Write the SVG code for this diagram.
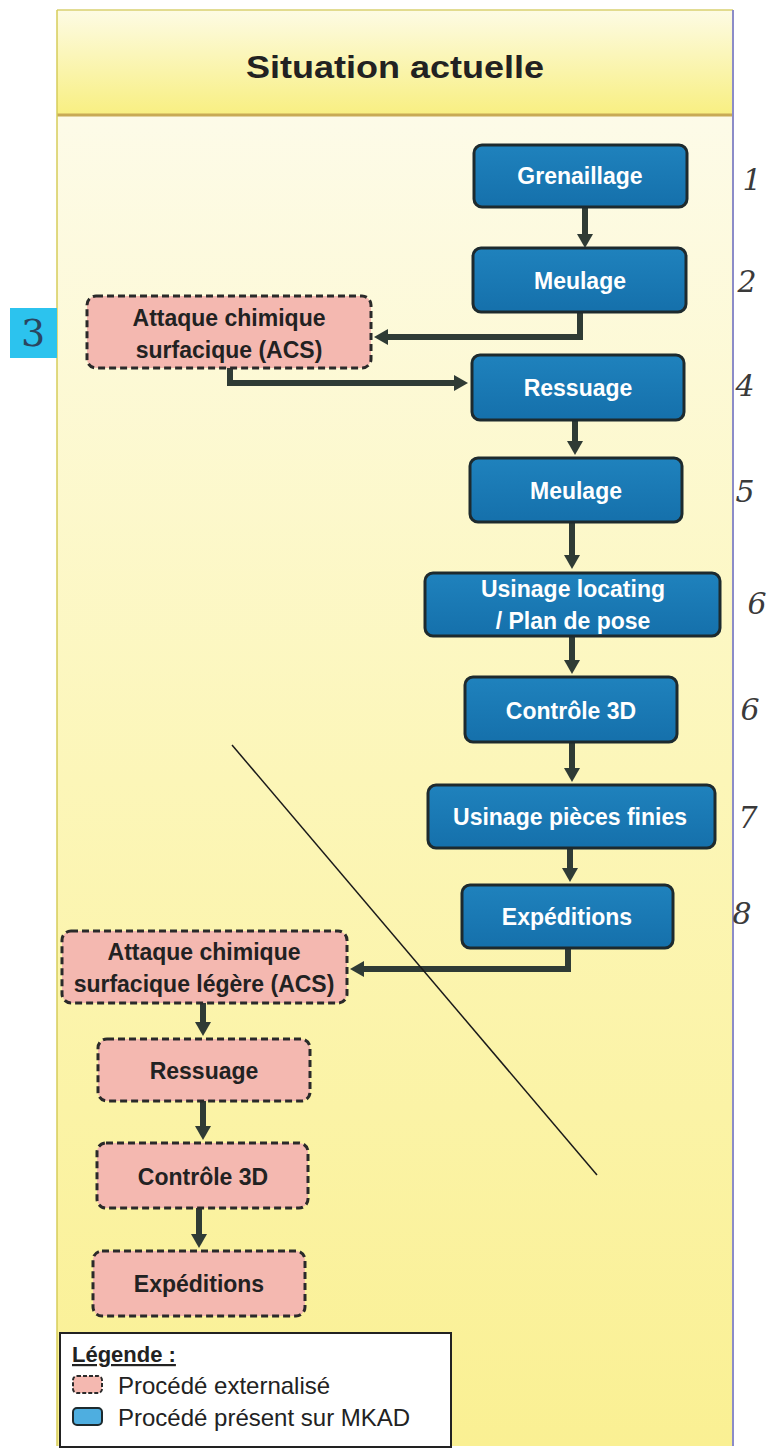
<svg xmlns="http://www.w3.org/2000/svg" width="773" height="1453" viewBox="0 0 773 1453">
<defs>
<linearGradient id="gHead" x1="0" y1="0" x2="0" y2="1">
<stop offset="0" stop-color="#fdfbe4"/><stop offset="1" stop-color="#f8ef80"/>
</linearGradient>
<linearGradient id="gBody" x1="0" y1="0" x2="0" y2="1">
<stop offset="0" stop-color="#fdfbe8"/><stop offset="0.5" stop-color="#fcf6b8"/><stop offset="1" stop-color="#faf093"/>
</linearGradient>
<linearGradient id="gBlue" x1="0" y1="0" x2="0" y2="1">
<stop offset="0" stop-color="#1f82bd"/><stop offset="1" stop-color="#1570ab"/>
</linearGradient>
<marker id="ah" markerUnits="userSpaceOnUse" markerWidth="18" markerHeight="18" refX="4" refY="9" orient="auto">
<path d="M0,1 L14,9 L0,17 z" fill="#2f3b35"/>
</marker>
</defs>
<style>
.blue{fill:url(#gBlue);stroke:#1d2a2e;stroke-width:3}
.pink{fill:#f4b8b0;stroke:#2a2a2a;stroke-width:3;stroke-dasharray:7 4}
.tw{font-family:"Liberation Sans",Arial,sans-serif;font-weight:bold;font-size:23px;fill:#ffffff;text-anchor:middle}
.tb{font-family:"Liberation Sans",Arial,sans-serif;font-weight:bold;font-size:23px;fill:#222222;text-anchor:middle}
.hw{font-family:"DejaVu Serif",serif;font-style:italic;font-size:30px;fill:#3a3a3a;text-anchor:middle}
.conn path{fill:none;stroke:#2f3b35;stroke-width:6;marker-end:url(#ah)}
.leg{font-family:"Liberation Sans",Arial,sans-serif;font-size:24px;fill:#222222}
</style>
<rect x="0" y="0" width="773" height="1453" fill="#ffffff"/>
<g id="panel">
<rect x="57" y="116" width="676" height="1330" fill="url(#gBody)"/>
<rect x="57" y="10" width="676" height="106" fill="url(#gHead)"/>
<line x1="57" y1="115" x2="733" y2="115" stroke="#c8aa55" stroke-width="3"/>
<line x1="57" y1="10" x2="733" y2="10" stroke="#d8d070" stroke-width="1.5"/>
<line x1="57" y1="10" x2="57" y2="1446" stroke="#d6cc5a" stroke-width="1.5"/>
<line x1="733" y1="10" x2="733" y2="1446" stroke="#8c8cc8" stroke-width="2"/>
<text x="395" y="78" font-family="Liberation Sans,Arial,sans-serif" font-weight="bold" font-size="31" fill="#222222" text-anchor="middle" textLength="298" lengthAdjust="spacingAndGlyphs">Situation actuelle</text>
</g>
<g class="conn" id="connectors">
<path d="M585,207 V238"/>
<path d="M580,312 V337 H384"/>
<path d="M230,368 V383 H458"/>
<path d="M575,420 V445"/>
<path d="M572,522 V559"/>
<path d="M572,636 V664"/>
<path d="M572,742 V772"/>
<path d="M570,848 V872"/>
<path d="M568,948 V969 H360"/>
<path d="M203,1003 V1026"/>
<path d="M203,1101 V1130"/>
<path d="M199,1208 V1238"/>
</g>
<line x1="232" y1="745" x2="597" y2="1175" stroke="#1a1a1a" stroke-width="1.5"/>
<g id="n1"><rect class="blue" x="474" y="145" width="213" height="62" rx="8"/><text class="tw" x="580" y="184">Grenaillage</text></g>
<g id="n2"><rect class="blue" x="473" y="248" width="213" height="64" rx="8"/><text class="tw" x="580" y="289">Meulage</text></g>
<g id="n3"><rect class="pink" x="87" y="296" width="284" height="72" rx="9"/><text class="tb" x="229" y="326">Attaque chimique</text><text class="tb" x="229" y="358">surfacique (ACS)</text></g>
<g id="n4"><rect class="blue" x="472" y="355" width="212" height="65" rx="8"/><text class="tw" x="578" y="396">Ressuage</text></g>
<g id="n5"><rect class="blue" x="470" y="458" width="212" height="64" rx="8"/><text class="tw" x="576" y="499">Meulage</text></g>
<g id="n6"><rect class="blue" x="425" y="573" width="295" height="63" rx="8"/><text class="tw" x="573" y="597">Usinage locating</text><text class="tw" x="573" y="629">/ Plan de pose</text></g>
<g id="n7"><rect class="blue" x="465" y="677" width="212" height="65" rx="8"/><text class="tw" x="571" y="719">Contrôle 3D</text></g>
<g id="n8"><rect class="blue" x="428" y="785" width="287" height="63" rx="8"/><text class="tw" x="570" y="825">Usinage pièces finies</text></g>
<g id="n9"><rect class="blue" x="462" y="885" width="211" height="63" rx="8"/><text class="tw" x="567" y="925">Expéditions</text></g>
<g id="n10"><rect class="pink" x="62" y="931" width="285" height="72" rx="9"/><text class="tb" x="204" y="960">Attaque chimique</text><text class="tb" x="204" y="992">surfacique légère (ACS)</text></g>
<g id="n11"><rect class="pink" x="98" y="1039" width="212" height="62" rx="9"/><text class="tb" x="204" y="1079">Ressuage</text></g>
<g id="n12"><rect class="pink" x="97" y="1143" width="211" height="65" rx="9"/><text class="tb" x="203" y="1185">Contrôle 3D</text></g>
<g id="n13"><rect class="pink" x="93" y="1251" width="212" height="65" rx="9"/><text class="tb" x="199" y="1292">Expéditions</text></g>
<g id="legend">
<rect x="60" y="1333" width="391" height="114" fill="#ffffff" stroke="#222222" stroke-width="2"/>
<text x="72" y="1362" font-family="Liberation Sans,Arial,sans-serif" font-weight="bold" font-size="22" fill="#222222" text-decoration="underline">Légende :</text>
<rect x="73" y="1376" width="29" height="17" rx="4" fill="#f4b8b0" stroke="#2a2a2a" stroke-width="2" stroke-dasharray="4 2"/>
<text class="leg" x="118" y="1394">Procédé externalisé</text>
<rect x="73" y="1408" width="29" height="17" rx="4" fill="#4eaee0" stroke="#1d2a2e" stroke-width="2"/>
<text class="leg" x="118" y="1426">Procédé présent sur MKAD</text>
</g>
<g id="annotations">
<rect x="10" y="308" width="47" height="50" fill="#2cc3ee"/>
<text x="33" y="346" font-family="DejaVu Serif,serif" font-size="38" fill="#2a4660" text-anchor="middle">3</text>
<text class="hw" x="752" y="190">1</text>
<text class="hw" x="747" y="292">2</text>
<text class="hw" x="745" y="396">4</text>
<text class="hw" x="745" y="502">5</text>
<text class="hw" x="757" y="614">6</text>
<text class="hw" x="750" y="720">6</text>
<text class="hw" x="748" y="828">7</text>
<text class="hw" x="742" y="924">8</text>
</g>
</svg>
